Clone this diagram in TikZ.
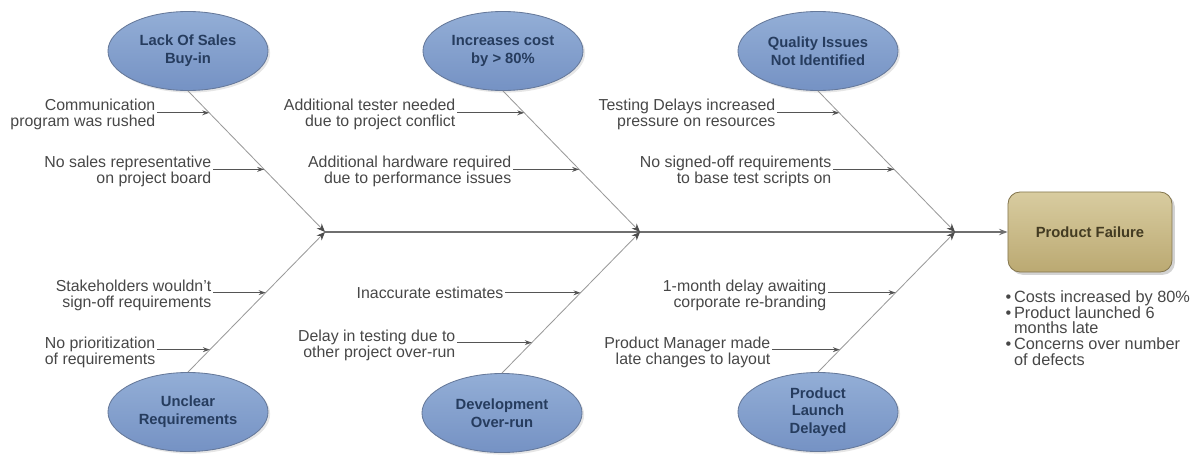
\documentclass[tikz,border=0pt]{standalone}
\usepackage{fontspec}
\setmainfont{Liberation Sans}
\usetikzlibrary{shapes}
\usetikzlibrary{arrows.meta}
\usetikzlibrary{positioning}
\usetikzlibrary{calc}
\usetikzlibrary{shadows}

\definecolor{lbltext}{HTML}{474747}
\definecolor{subline}{HTML}{555555}
\definecolor{boneline}{HTML}{9A9A9A}
\definecolor{tipgray}{HTML}{4D4D4D}
\definecolor{spineline}{HTML}{6F6F6F}
\definecolor{causetop}{HTML}{93AED6}
\definecolor{causebot}{HTML}{7592C4}
\definecolor{causeline}{HTML}{66799A}
\definecolor{causetext}{HTML}{263C5E}
\definecolor{effecttop}{HTML}{D8CCA0}
\definecolor{effectbot}{HTML}{BBA972}
\definecolor{effectline}{HTML}{85774F}
\definecolor{effecttext}{HTML}{433B22}

\newcommand\lblfont{\fontsize{11.3}{11.3}\selectfont}
\newcommand\causefont{\fontsize{10.5}{12.6}\selectfont\bfseries}

\tikzset{
  cause/.style={ellipse, draw=causeline, line width=0.6pt, top color=causetop, bottom color=causebot,
    minimum width=4cm, minimum height=1.975cm, inner sep=0pt, align=center,
    font=\causefont, text=causetext,
    drop shadow={shadow xshift=1.5pt, shadow yshift=-1.5pt, opacity=0.2}},
  effect/.style={rectangle, rounded corners=0.3cm, draw=effectline, line width=0.6pt,
    top color=effecttop, bottom color=effectbot, minimum width=4.1cm, minimum height=2cm,
    font=\causefont, text=effecttext,
    drop shadow={shadow xshift=2pt, shadow yshift=-2pt, opacity=0.35}},
  lbl/.style={font=\lblfont, text=lbltext, align=right, inner sep=1pt},
  bone/.style={draw=boneline, line width=0.6pt, -{Stealth[length=6pt, width=5pt, color=tipgray]}},
  sub/.style={draw=subline, line width=0.7pt, -{Stealth[length=5pt, width=3.5pt]}},
  spine/.style={draw=spineline, line width=1.1pt, -{Stealth[length=6pt, width=4.5pt]}}
}

\begin{document}
\begin{tikzpicture}[x=0.025cm, y=-0.025cm]
\useasboundingbox (0,0) rectangle (1199,455);

\coordinate (j1) at (325,232);
\coordinate (j2) at (640,232);
\coordinate (j3) at (955,232);

\node[cause] (lack) at (188,51) {Lack Of Sales\\Buy-in};
\node[cause] (cost) at (503,51) {Increases cost\\by > 80\%};
\node[cause] (quality) at (818,51) {Quality Issues\\Not Identified};
\node[cause] (unclear) at (188,412) {Unclear\\Requirements};
\node[cause] (devel) at (502,413) {Development\\Over-run};
\node[cause] (launch) at (818,412) {Product\\Launch\\Delayed};
\node[effect] (fail) at (1090,232) {Product Failure};

\node[lbl, anchor=east] (comm) at (157,114) {Communication\\program was rushed};
\node[lbl, anchor=east] (sales) at (213,171) {No sales representative\\on project board};
\node[lbl, anchor=east] (tester) at (457,114) {Additional tester needed\\due to project conflict};
\node[lbl, anchor=east] (hardware) at (513,171) {Additional hardware required\\due to performance issues};
\node[lbl, anchor=east] (testdelay) at (777,114) {Testing Delays increased\\pressure on resources};
\node[lbl, anchor=east] (signoff) at (833,171) {No signed-off requirements\\to base test scripts on};
\node[lbl, anchor=east] (stake) at (213,295) {Stakeholders wouldn't\\sign-off requirements};
\node[lbl, anchor=east] (prior) at (157,352) {No prioritization\\of requirements};
\node[lbl, anchor=east] (inacc) at (505,293) {Inaccurate estimates};
\node[lbl, anchor=east] (delay) at (457,345) {Delay in testing due to\\other project over-run};
\node[lbl, anchor=east] (month) at (828,295) {1-month delay awaiting\\corporate re-branding};
\node[lbl, anchor=east] (manager) at (772,352) {Product Manager made\\late changes to layout};

\node[lbl, font=\fontsize{11.6}{11.2}\selectfont, align=left, anchor=west] (facts) at (1004,328)
  {\textbullet\,Costs increased by 80\%\\
   \textbullet\,Product launched 6\\
   \hphantom{\textbullet\,}months late\\
   \textbullet\,Concerns over number\\
   \hphantom{\textbullet\,}of defects};

\coordinate (lack1) at ($(lack.south)!0.155!(j1)$);
\coordinate (lack2) at ($(lack.south)!0.556!(j1)$);
\coordinate (cost1) at ($(cost.south)!0.155!(j2)$);
\coordinate (cost2) at ($(cost.south)!0.556!(j2)$);
\coordinate (quality1) at ($(quality.south)!0.155!(j3)$);
\coordinate (quality2) at ($(quality.south)!0.556!(j3)$);
\coordinate (unclear1) at ($(unclear.north)!0.567!(j1)$);
\coordinate (unclear2) at ($(unclear.north)!0.16!(j1)$);
\coordinate (devel1) at ($(devel.north)!0.569!(j2)$);
\coordinate (devel2) at ($(devel.north)!0.216!(j2)$);
\coordinate (launch1) at ($(launch.north)!0.567!(j3)$);
\coordinate (launch2) at ($(launch.north)!0.16!(j3)$);

\draw[spine] (j1) -- (fail.west);
\draw[bone] (lack.south) -- (j1);
\draw[bone] (unclear.north) -- (j1);
\draw[bone] (cost.south) -- (j2);
\draw[bone] (devel.north) -- (j2);
\draw[bone] (quality.south) -- (j3);
\draw[bone] (launch.north) -- (j3);

\draw[sub] (comm.east |- lack1) -- (lack1);
\draw[sub] (sales.east |- lack2) -- (lack2);
\draw[sub] (tester.east |- cost1) -- (cost1);
\draw[sub] (hardware.east |- cost2) -- (cost2);
\draw[sub] (testdelay.east |- quality1) -- (quality1);
\draw[sub] (signoff.east |- quality2) -- (quality2);
\draw[sub] (stake.east |- unclear1) -- (unclear1);
\draw[sub] (prior.east |- unclear2) -- (unclear2);
\draw[sub] (inacc.east |- devel1) -- (devel1);
\draw[sub] (delay.east |- devel2) -- (devel2);
\draw[sub] (month.east |- launch1) -- (launch1);
\draw[sub] (manager.east |- launch2) -- (launch2);
\end{tikzpicture}
\end{document}
